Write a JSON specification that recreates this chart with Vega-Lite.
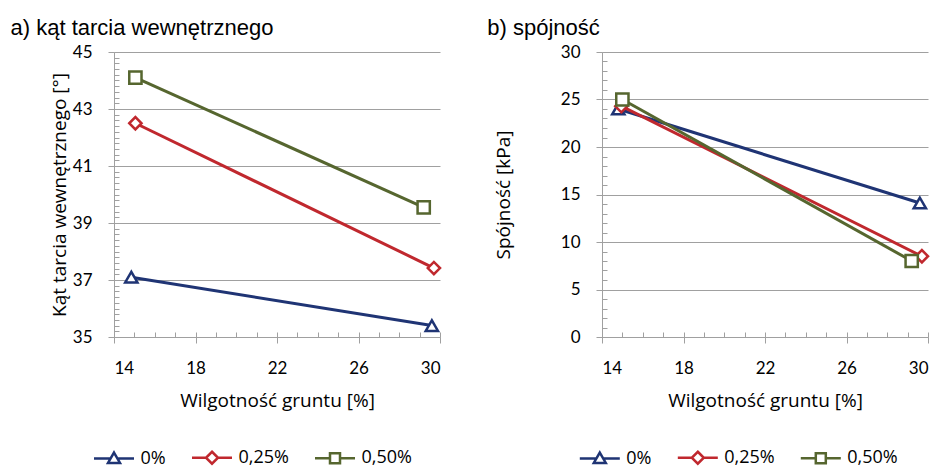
{
  "$schema": "https://vega.github.io/schema/vega-lite/v6.json",
  "background": "white",
  "padding": {"left": 10, "top": 17, "right": 3, "bottom": 0},
  "spacing": 41,
  "config": {
    "view": {"stroke": null},
    "axis": {
      "labelFont": "Lato", "labelFontSize": 17, "labelColor": "black",
      "titleFont": "Open Sans", "titleFontSize": 19, "titleFontWeight": "normal", "titleColor": "black",
      "domainColor": "#A0A0A0", "tickColor": "#A0A0A0", "gridColor": "#A0A0A0",
      "domainWidth": 1, "tickWidth": 1, "gridWidth": 1
    },
    "legend": {
      "orient": "none", "direction": "horizontal", "title": null,
      "labelFont": "Open Sans", "labelFontSize": 18, "labelColor": "black",
      "symbolSize": 1600, "symbolStrokeWidth": 2.5, "columnPadding": 20, "labelOffset": 5
    },
    "point": {"filled": false, "fill": "white", "size": 150, "strokeWidth": 2.5, "opacity": 1},
    "title": {"font": "Liberation Sans", "fontSize": 22, "fontWeight": "normal", "color": "black", "anchor": "start", "frame": "group", "baseline": "alphabetic"}
  },
  "datasets": {
    "a": [
      {"w": 14.85, "v": 37.1, "s": "0%"},
      {"w": 29.6, "v": 35.4, "s": "0%"},
      {"w": 15.05, "v": 42.5, "s": "0,25%"},
      {"w": 29.7, "v": 37.42, "s": "0,25%"},
      {"w": 15.05, "v": 44.1, "s": "0,50%"},
      {"w": 29.2, "v": 39.55, "s": "0,50%"}
    ],
    "b": [
      {"w": 14.8, "v": 24.0, "s": "0%"},
      {"w": 29.6, "v": 14.1, "s": "0%"},
      {"w": 14.95, "v": 24.3, "s": "0,25%"},
      {"w": 29.7, "v": 8.5, "s": "0,25%"},
      {"w": 15.0, "v": 25.0, "s": "0,50%"},
      {"w": 29.2, "v": 8.0, "s": "0,50%"}
    ]
  },
  "hconcat": [
    {
      "width": 326, "height": 285,
      "title": {"text": "a) kąt tarcia wewnętrznego", "dx": -103.5, "offset": 3},
      "data": {"name": "a"},
      "layer": [
        {
          "mark": {"type": "line", "strokeWidth": 3},
          "encoding": {
            "x": {"field": "w", "type": "quantitative", "scale": {"domain": [14, 30], "nice": false},
                  "axis": {"values": [14, 18, 22, 26, 30], "grid": false, "tickSize": 6, "labelPadding": 17, "title": "Wilgotność gruntu [%]", "titlePadding": 15}},
            "y": {"field": "v", "type": "quantitative", "scale": {"domain": [35, 45], "nice": false, "zero": false},
                  "axis": {"values": [35, 37, 39, 41, 43, 45], "grid": true, "tickSize": 6, "labelPadding": 16, "title": "Kąt tarcia wewnętrznego [°]", "titlePadding": 3}},
            "color": {"field": "s", "type": "nominal",
                      "scale": {"domain": ["0%", "0,25%", "0,50%"], "range": ["#1F3474", "#C0282E", "#56662F"]},
                      "legend": {"legendX": -21.5, "legendY": 384,
                                 "encode": {"symbols": {"update": {
                                   "shape": {"signal": "datum.value === '0%' ? 'M-1,0H-0.17M0.17,0H1M0,-0.3L0.3,0.22L-0.3,0.22Z' : datum.value === '0,25%' ? 'M-1,0H-0.3M0.3,0H1M0,-0.3L0.3,0L0,0.3L-0.3,0Z' : 'M-1,0H-0.25M0.25,0H1M-0.25,-0.25H0.25V0.25H-0.25Z'"},
                                   "fill": {"value": "white"},
                                   "strokeWidth": {"value": 2.5}
                                 }}}}}
          }
        },
        {
          "transform": [{"filter": "datum.s === '0%'"}],
          "mark": {"type": "point", "shape": "triangle-up"},
          "encoding": {
            "x": {"field": "w", "type": "quantitative",
                  "axis": {"orient": "bottom", "offset": -5, "values": [14,15,16,17,18,19,20,21,22,23,24,25,26,27,28,29,30], "grid": false, "labels": false, "domain": false, "tickSize": 5, "title": null}},
            "y": {"field": "v", "type": "quantitative",
                  "axis": {"orient": "left", "offset": -5, "values": [35,35.2,35.4,35.6,35.8,36,36.2,36.4,36.6,36.8,37,37.2,37.4,37.6,37.8,38,38.2,38.4,38.6,38.8,39,39.2,39.4,39.6,39.8,40,40.2,40.4,40.6,40.8,41,41.2,41.4,41.6,41.8,42,42.2,42.4,42.6,42.8,43,43.2,43.4,43.6,43.8,44,44.2,44.4,44.6,44.8,45], "grid": false, "labels": false, "domain": false, "tickSize": 5, "title": null}},
            "color": {"field": "s", "type": "nominal"}
          }
        },
        {
          "transform": [{"filter": "datum.s === '0,25%'"}],
          "mark": {"type": "point", "shape": "diamond"},
          "encoding": {
            "x": {"field": "w", "type": "quantitative", "axis": null},
            "y": {"field": "v", "type": "quantitative", "axis": null},
            "color": {"field": "s", "type": "nominal"}
          }
        },
        {
          "transform": [{"filter": "datum.s === '0,50%'"}],
          "mark": {"type": "point", "shape": "square"},
          "encoding": {
            "x": {"field": "w", "type": "quantitative", "axis": null},
            "y": {"field": "v", "type": "quantitative", "axis": null},
            "color": {"field": "s", "type": "nominal"}
          }
        }
      ],
      "resolve": {"axis": {"x": "independent", "y": "independent"}}
    },
    {
      "width": 326, "height": 285,
      "title": {"text": "b) spójność", "dx": -114.7, "offset": 3},
      "data": {"name": "b"},
      "layer": [
        {
          "mark": {"type": "line", "strokeWidth": 3},
          "encoding": {
            "x": {"field": "w", "type": "quantitative", "scale": {"domain": [14, 30], "nice": false},
                  "axis": {"values": [14, 18, 22, 26, 30], "grid": false, "tickSize": 6, "labelPadding": 17, "title": "Wilgotność gruntu [%]", "titlePadding": 15}},
            "y": {"field": "v", "type": "quantitative", "scale": {"domain": [0, 30], "nice": false},
                  "axis": {"values": [0, 5, 10, 15, 20, 25, 30], "grid": true, "tickSize": 6, "labelPadding": 16, "title": "Spójność [kPa]", "titlePadding": 47}},
            "color": {"field": "s", "type": "nominal",
                      "scale": {"domain": ["0%", "0,25%", "0,50%"], "range": ["#1F3474", "#C0282E", "#56662F"]},
                      "legend": {"legendX": -23.7, "legendY": 384,
                                 "encode": {"symbols": {"update": {
                                   "shape": {"signal": "datum.value === '0%' ? 'M-1,0H-0.17M0.17,0H1M0,-0.3L0.3,0.22L-0.3,0.22Z' : datum.value === '0,25%' ? 'M-1,0H-0.3M0.3,0H1M0,-0.3L0.3,0L0,0.3L-0.3,0Z' : 'M-1,0H-0.25M0.25,0H1M-0.25,-0.25H0.25V0.25H-0.25Z'"},
                                   "fill": {"value": "white"},
                                   "strokeWidth": {"value": 2.5}
                                 }}}}}
          }
        },
        {
          "transform": [{"filter": "datum.s === '0%'"}],
          "mark": {"type": "point", "shape": "triangle-up"},
          "encoding": {
            "x": {"field": "w", "type": "quantitative",
                  "axis": {"orient": "bottom", "offset": -5, "values": [14,15,16,17,18,19,20,21,22,23,24,25,26,27,28,29,30], "grid": false, "labels": false, "domain": false, "tickSize": 5, "title": null}},
            "y": {"field": "v", "type": "quantitative",
                  "axis": {"orient": "left", "offset": -5, "values": [0,1,2,3,4,5,6,7,8,9,10,11,12,13,14,15,16,17,18,19,20,21,22,23,24,25,26,27,28,29,30], "grid": false, "labels": false, "domain": false, "tickSize": 5, "title": null}},
            "color": {"field": "s", "type": "nominal"}
          }
        },
        {
          "transform": [{"filter": "datum.s === '0,25%'"}],
          "mark": {"type": "point", "shape": "diamond"},
          "encoding": {
            "x": {"field": "w", "type": "quantitative", "axis": null},
            "y": {"field": "v", "type": "quantitative", "axis": null},
            "color": {"field": "s", "type": "nominal"}
          }
        },
        {
          "transform": [{"filter": "datum.s === '0,50%'"}],
          "mark": {"type": "point", "shape": "square"},
          "encoding": {
            "x": {"field": "w", "type": "quantitative", "axis": null},
            "y": {"field": "v", "type": "quantitative", "axis": null},
            "color": {"field": "s", "type": "nominal"}
          }
        }
      ],
      "resolve": {"axis": {"x": "independent", "y": "independent"}}
    }
  ],
  "resolve": {"scale": {"color": "independent"}, "legend": {"color": "independent"}}
}
